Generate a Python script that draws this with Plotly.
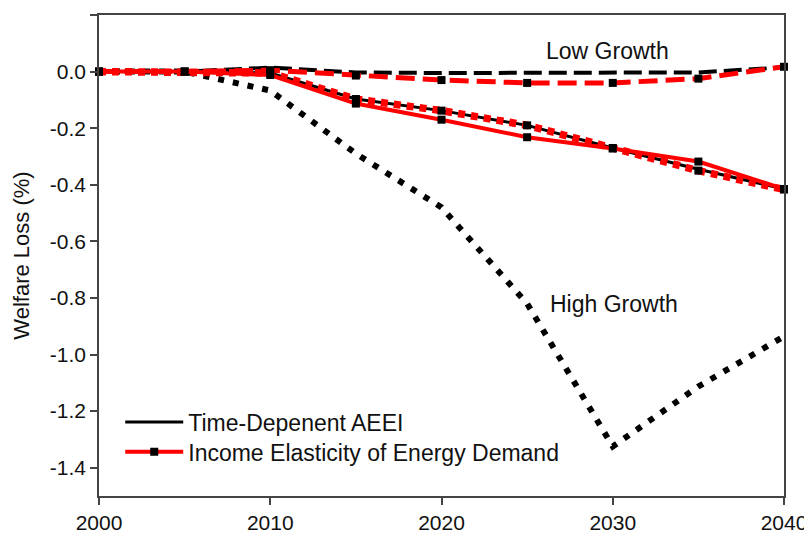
import plotly.graph_objects as go

years = [2000, 2005, 2010, 2015, 2020, 2025, 2030, 2035, 2040]
aeei_low = [0, 0, 0.014, -0.003, -0.005, -0.005, -0.005, -0.003, 0.015]
aeei_ref = [0, 0, -0.005, -0.097, -0.138, -0.19, -0.27, -0.345, -0.415]
aeei_high = [0, 0, -0.067, -0.29, -0.48, -0.82, -1.325, -1.113, -0.936]
ie_low = [0, 0, 0.005, -0.014, -0.03, -0.04, -0.04, -0.025, 0.017]
ie_ref = [0, 0, -0.012, -0.113, -0.17, -0.232, -0.272, -0.318, -0.415]
ie_high = [0, 0, -0.005, -0.097, -0.138, -0.19, -0.27, -0.35, -0.417]

legend_names = ["Time-Depenent AEEI", "Income Elasticity of Energy Demand"]
x_ticks = [2000, 2010, 2020, 2030, 2040]
y_ticks = [0.2, 0.0, -0.2, -0.4, -0.6, -0.8, -1.0, -1.2, -1.4]
y_ticktext = ["0.2", "0.0", "-0.2", "-0.4", "-0.6", "-0.8", "-1.0", "-1.2", "-1.4"]
labels = ["Low Growth", "High Growth"]
label_pos = [(2029.7, 0.074), (2030.1, -0.82)]

RED = "#ff0000"
BLACK = "#000000"

fig = go.Figure()

# Time-dependent AEEI (black lines)
fig.add_trace(go.Scatter(x=years, y=aeei_high, mode="lines", showlegend=False,
                         line=dict(color=BLACK, width=6, dash="6px,9px")))
fig.add_trace(go.Scatter(x=years, y=aeei_low, mode="lines", showlegend=False,
                         line=dict(color=BLACK, width=4, dash="18px,7px")))
fig.add_trace(go.Scatter(x=years, y=aeei_ref, mode="lines", name=legend_names[0],
                         showlegend=True, legend="legend",
                         line=dict(color=BLACK, width=3)))

# Income elasticity (red lines with black squares)
marker = dict(symbol="square", size=8, color=BLACK)
fig.add_trace(go.Scatter(x=years, y=ie_low, mode="lines+markers", showlegend=False,
                         cliponaxis=False, marker=marker,
                         line=dict(color=RED, width=5, dash="19px,8px")))
fig.add_trace(go.Scatter(x=years, y=ie_high, mode="lines+markers", showlegend=False,
                         cliponaxis=False, marker=marker,
                         line=dict(color=RED, width=7.5, dash="7px,6px")))
fig.add_trace(go.Scatter(x=years, y=ie_ref, mode="lines+markers", name=legend_names[1],
                         showlegend=True, legend="legend2", cliponaxis=False, marker=marker,
                         line=dict(color=RED, width=4)))

for txt, (ax, ay) in zip(labels, label_pos):
    fig.add_annotation(x=ax, y=ay, text=txt, showarrow=False,
                       font=dict(size=23, color="#111111"))

axis_common = dict(showline=True, linecolor="#444444", linewidth=1.5, mirror=True,
                   ticks="outside", ticklen=7, tickwidth=1.5, tickcolor="#444444",
                   showgrid=False, zeroline=False, automargin=False,
                   tickfont=dict(size=21, color="#111111"))

fig.update_xaxes(range=[2000, 2040], tickvals=x_ticks, **axis_common)
fig.update_yaxes(range=[-1.5, 0.2], tickvals=y_ticks, ticktext=y_ticktext,
                 title=dict(text="Welfare Loss (%)", font=dict(size=22, color="#111111"),
                            standoff=14),
                 **axis_common)

legend_common = dict(xanchor="left", yanchor="middle", bgcolor="rgba(0,0,0,0)",
                     font=dict(size=23, color="#111111"), itemwidth=58)

# The page body has an 8px default margin, so the figure is sized 8px smaller
# and margins are set so the plot area lands where the reference's does.
fig.update_layout(
    width=804, height=529,
    margin=dict(l=91, r=28, t=7, b=41, autoexpand=False),
    paper_bgcolor="white", plot_bgcolor="white",
    font=dict(family="Liberation Sans, Arial, sans-serif", color="#111111"),
    legend=dict(x=0.031, y=0.154, **legend_common),
    legend2=dict(x=0.031, y=0.092, **legend_common),
)

fig.write_html("out.html")
